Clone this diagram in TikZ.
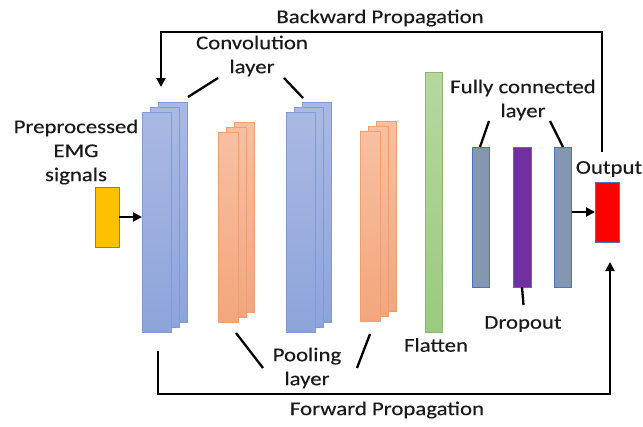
\documentclass[tikz,border=0pt]{standalone}
\usepackage{fontspec}
\setmainfont{Carlito}[FakeStretch=1.17,FakeBold=0.3]
\usetikzlibrary{arrows.meta}
\definecolor{convT}{HTML}{AAB9E3}
\definecolor{convB}{HTML}{8DA4DA}
\definecolor{convD}{HTML}{7E9AD8}
\definecolor{poolT}{HTML}{F7C0A2}
\definecolor{poolB}{HTML}{F3A67D}
\definecolor{poolD}{HTML}{F19E6C}
\definecolor{flatT}{HTML}{B6D7A2}
\definecolor{flatB}{HTML}{9BCA7F}
\definecolor{fcF}{HTML}{8497B0}
\definecolor{blueD}{HTML}{4A72C0}
\definecolor{dropF}{HTML}{7030A0}
\definecolor{inF}{HTML}{FFC000}
\definecolor{txt}{HTML}{1A1A1A}
\tikzset{
  blk/.style={inner sep=0pt,outer sep=0pt,line width=0.8pt},
  convbox/.style={blk,draw=convD,top color=convT,bottom color=convB,minimum width=29pt,minimum height=220pt},
  poolbox/.style={blk,draw=poolD,top color=poolT,bottom color=poolB,minimum width=20pt,minimum height=190pt},
  flatbox/.style={blk,draw=flatB!90!black,top color=flatT,bottom color=flatB,minimum width=17pt,minimum height=260pt},
  fcbox/.style={blk,draw=blueD,fill=fcF,minimum width=17pt,minimum height=140pt},
  dropbox/.style={blk,draw=blueD,fill=dropF,minimum width=18pt,minimum height=140pt},
  outbox/.style={blk,draw=blueD,fill=red,minimum width=24pt,minimum height=60pt},
  inbox/.style={blk,draw=gray,fill=inF,minimum width=24pt,minimum height=60pt},
  lbl/.style={inner sep=0pt,align=center,text=txt,font=\fontsize{19.5}{24}\selectfont},
  wire/.style={line width=2.3pt,black},
  arr/.style={wire,-{Triangle[length=9pt,width=9pt]}}
}
\begin{document}
\begin{tikzpicture}[x=1pt,y=-1pt]
\useasboundingbox (0,0) rectangle (643,426);
% conv 1
\node[convbox] (c1c) at (172.5,212) {};
\node[convbox] (c1b) at (164.5,217) {};
\node[convbox] (c1a) at (156.5,222) {};
% pool 1
\node[poolbox] (p1c) at (244.5,217) {};
\node[poolbox] (p1b) at (236.5,222) {};
\node[poolbox] (p1a) at (228.5,227) {};
% conv 2
\node[convbox] (c2c) at (316.5,212) {};
\node[convbox] (c2b) at (308.5,217) {};
\node[convbox] (c2a) at (300.5,222) {};
% pool 2
\node[poolbox] (p2c) at (386.5,216) {};
\node[poolbox] (p2b) at (378.5,221) {};
\node[poolbox] (p2a) at (370.5,226) {};
% flatten
\node[flatbox] (fl) at (433.5,202) {};
% fully connected
\node[fcbox] (fc1) at (481,217) {};
\node[dropbox] (dr) at (522,217) {};
\node[fcbox] (fc2) at (563,217) {};
% output / input
\node[outbox] (out) at (607,212) {};
\node[inbox] (in) at (107,217) {};

% labels
\node[lbl] (tback) at (380,18) {Backward Propagation};
\node[lbl] (tconv) at (252,56) {Convolution\\layer};
\node[lbl] (tin) at (76,152) {Preprocessed\\EMG\\signals};
\node[lbl] (tfc) at (523,100) {Fully connected\\layer};
\node[lbl] (tout) at (609,169) {Output};
\node[lbl] (tdrop) at (523,324) {Dropout};
\node[lbl] (tflat) at (436,345) {Flatten};
\node[lbl] (tpool) at (307,368) {Pooling\\layer};
\node[lbl] (tfwd) at (387,410) {Forward Propagation};

% arrows into / out of
\draw[arr] (in.east) -- (in.east -| c1a.west);
\draw[arr] (fc2.east |- out.west) -- (out.west);

% backward propagation
\coordinate (bs) at (602,152);
\coordinate (be) at (161,87);
\draw[arr] (bs) -- (602,32) -- (161,32) -- (be);

% forward propagation
\coordinate (fs) at (158,351);
\coordinate (fe) at (610,262);
\draw[arr] (fs) -- (158,394) -- (610,394) -- (fe);

% label pointer lines
\coordinate (cl1a) at (188,97);  \coordinate (cl1b) at (218,78);
\coordinate (cl2a) at (284,78);  \coordinate (cl2b) at (303,98);
\draw[wire] (cl1a) -- (cl1b);
\draw[wire] (cl2a) -- (cl2b);
\coordinate (fl1a) at (480,147); \coordinate (fl1b) at (489,121);
\coordinate (fl2a) at (550,121); \coordinate (fl2b) at (563,147);
\draw[wire] (fl1a) -- (fl1b);
\draw[wire] (fl2a) -- (fl2b);
\coordinate (dl) at (523.5,305);
\draw[wire] (dr.south) -- (dl);
\coordinate (pl1a) at (236,333); \coordinate (pl1b) at (263,368);
\coordinate (pl2a) at (370,334); \coordinate (pl2b) at (357,368);
\draw[wire] (pl1a) -- (pl1b);
\draw[wire] (pl2a) -- (pl2b);
\end{tikzpicture}
\end{document}
